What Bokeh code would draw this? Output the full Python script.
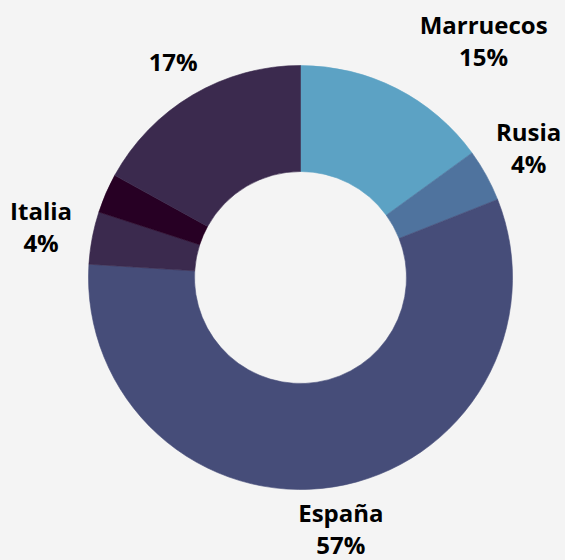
import math
from bokeh.plotting import figure
from bokeh.models import ColumnDataSource
from bokeh.core.properties import value
from bokeh.embed import file_html
from bokeh.resources import INLINE

# ---- data ----
names = ["Marruecos", "Rusia", "España", "Italia", "", ""]
shares = [15, 4, 57, 4, 3, 17]
show_label = [True, True, True, True, False, True]
colors = ["#5ca2c4", "#4f739e", "#464d79", "#3b2a4e", "#270024", "#3b2a4e"]

# ---- layout ----
W, H = 565, 560
CX, CY = 300, H - 277
R_OUT, R_IN = 212, 106
LABEL_R = 258
LINE_GAP = 32
label_shift = [(66, -7), (2, -6), (0, -4), (-6, -3), (0, 0), (4, 6)]  # px (right, down)

total = float(sum(shares))
starts, ends, mids = [], [], []
acc = 0.0
for s in shares:
    a0 = acc / total
    acc += s
    a1 = acc / total
    starts.append(math.pi / 2 - a0 * 2 * math.pi)
    ends.append(math.pi / 2 - a1 * 2 * math.pi)
    mids.append((a0 + a1) / 2 * 2 * math.pi)

src = ColumnDataSource(dict(start=starts, end=ends, color=colors,
                            x=[CX] * len(shares), y=[CY] * len(shares)))

p = figure(width=W, height=H, x_range=(0, W), y_range=(0, H),
           output_backend="svg", toolbar_location=None, min_border=0)
p.axis.visible = False
p.grid.visible = False
p.outline_line_color = None
p.background_fill_color = "#f4f4f4"
p.border_fill_color = "#f4f4f4"

p.annular_wedge(x="x", y="y", inner_radius=R_IN, outer_radius=R_OUT,
                start_angle="start", end_angle="end", direction="clock",
                fill_color="color", line_color="color", line_width=0.6,
                source=src)

nx, ny, nt = [], [], []
px_, py_, pt = [], [], []
for n, s, show, m, (dx, dy) in zip(names, shares, show_label, mids, label_shift):
    if not show:
        continue
    bx = CX + LABEL_R * math.sin(m) + dx
    by = CY + LABEL_R * math.cos(m) - dy
    pct = f"{round(s)}%"
    if n:
        nx.append(bx); ny.append(by + LINE_GAP / 2); nt.append(n)
        px_.append(bx); py_.append(by - LINE_GAP / 2); pt.append(pct)
    else:
        px_.append(bx); py_.append(by); pt.append(pct)

common = dict(text_align="center", text_baseline="middle",
              text_font=value("Open Sans"), text_font_style="bold",
              text_font_size="24px", text_color="#000000")
p.text(x=nx, y=ny, text=nt, **common)
p.text(x=px_, y=py_, text=pt, **common)

html = file_html(p, INLINE)
html = html.replace("<head>", "<head><style>html,body{background:#f4f4f4;}</style>", 1)
open("out.html", "w").write(html)
